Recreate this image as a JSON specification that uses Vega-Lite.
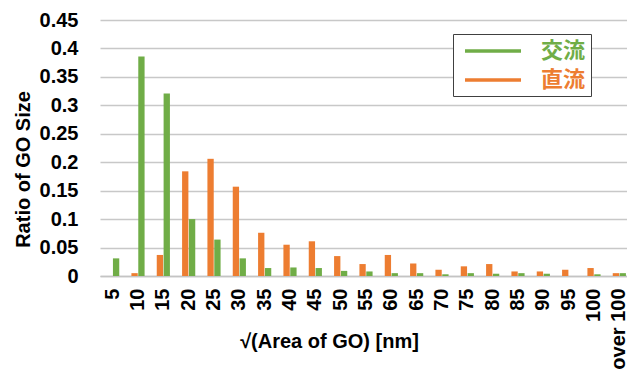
{
  "$schema": "https://vega.github.io/schema/vega-lite/v6.json",
  "autosize": {"type": "none"},
  "width": 529,
  "height": 256,
  "padding": {"left": 98, "top": 20, "right": 0, "bottom": 93},
  "background": "white",
  "config": {
    "view": {"stroke": null},
    "font": "Liberation Sans",
    "axis": {"labelFont": "Liberation Sans", "titleFont": "Liberation Sans"}
  },
  "data": {
    "values": [
      {"size": "5", "series": "直流", "ratio": 0.0},
      {"size": "5", "series": "交流", "ratio": 0.031},
      {"size": "10", "series": "直流", "ratio": 0.005},
      {"size": "10", "series": "交流", "ratio": 0.386},
      {"size": "15", "series": "直流", "ratio": 0.037},
      {"size": "15", "series": "交流", "ratio": 0.321},
      {"size": "20", "series": "直流", "ratio": 0.184},
      {"size": "20", "series": "交流", "ratio": 0.100},
      {"size": "25", "series": "直流", "ratio": 0.206},
      {"size": "25", "series": "交流", "ratio": 0.064},
      {"size": "30", "series": "直流", "ratio": 0.157},
      {"size": "30", "series": "交流", "ratio": 0.031},
      {"size": "35", "series": "直流", "ratio": 0.076},
      {"size": "35", "series": "交流", "ratio": 0.014},
      {"size": "40", "series": "直流", "ratio": 0.055},
      {"size": "40", "series": "交流", "ratio": 0.015},
      {"size": "45", "series": "直流", "ratio": 0.061},
      {"size": "45", "series": "交流", "ratio": 0.014},
      {"size": "50", "series": "直流", "ratio": 0.035},
      {"size": "50", "series": "交流", "ratio": 0.009},
      {"size": "55", "series": "直流", "ratio": 0.021},
      {"size": "55", "series": "交流", "ratio": 0.008},
      {"size": "60", "series": "直流", "ratio": 0.037},
      {"size": "60", "series": "交流", "ratio": 0.005},
      {"size": "65", "series": "直流", "ratio": 0.022},
      {"size": "65", "series": "交流", "ratio": 0.005},
      {"size": "70", "series": "直流", "ratio": 0.011},
      {"size": "70", "series": "交流", "ratio": 0.003},
      {"size": "75", "series": "直流", "ratio": 0.017},
      {"size": "75", "series": "交流", "ratio": 0.005},
      {"size": "80", "series": "直流", "ratio": 0.021},
      {"size": "80", "series": "交流", "ratio": 0.004},
      {"size": "85", "series": "直流", "ratio": 0.008},
      {"size": "85", "series": "交流", "ratio": 0.005},
      {"size": "90", "series": "直流", "ratio": 0.008},
      {"size": "90", "series": "交流", "ratio": 0.004},
      {"size": "95", "series": "直流", "ratio": 0.011},
      {"size": "95", "series": "交流", "ratio": 0.0},
      {"size": "100", "series": "直流", "ratio": 0.014},
      {"size": "100", "series": "交流", "ratio": 0.003},
      {"size": "over 100", "series": "直流", "ratio": 0.005},
      {"size": "over 100", "series": "交流", "ratio": 0.005}
    ]
  },
  "mark": {"type": "bar"},
  "encoding": {
    "x": {
      "field": "size",
      "type": "nominal",
      "sort": null,
      "scale": {"range": [2, 534], "paddingInner": 0.48, "paddingOuter": 0.24},
      "axis": {
        "title": "√(Area of GO) [nm]",
        "titleFontSize": 20,
        "titleFontWeight": "bold",
        "titleColor": "#000000",
        "titleX": 231,
        "titleY": 71,
        "titleAlign": "center",
        "titleBaseline": "alphabetic",
        "labelAngle": -90,
        "labelFontSize": 20,
        "labelFontWeight": "bold",
        "labelColor": "#000000",
        "labelPadding": 12,
        "labelOverlap": false,
        "labelLimit": 0,
        "ticks": false,
        "domainColor": "#c4c4c4",
        "domainWidth": 1.5,
        "grid": false
      }
    },
    "xOffset": {
      "field": "series",
      "type": "nominal",
      "scale": {"domain": ["直流", "交流"], "paddingInner": 0.08}
    },
    "y": {
      "field": "ratio",
      "type": "quantitative",
      "scale": {"domain": [0, 0.45], "nice": false},
      "axis": {
        "title": "Ratio of GO Size",
        "titleFontSize": 20,
        "titleFontWeight": "bold",
        "titleColor": "#000000",
        "titleX": -69,
        "titleY": 149,
        "titleAlign": "center",
        "titleBaseline": "alphabetic",
        "titleAngle": -90,
        "values": [0, 0.05, 0.1, 0.15, 0.2, 0.25, 0.3, 0.35, 0.4, 0.45],
        "labelExpr": "datum.value == 0 ? '0' : replace(format(datum.value, '.2f'), /0$/, '')",
        "labelFontSize": 20,
        "labelFontWeight": "bold",
        "labelColor": "#000000",
        "labelPadding": 20,
        "ticks": false,
        "domain": false,
        "grid": true,
        "gridColor": "#c8c8c8",
        "gridWidth": 1.5
      }
    },
    "color": {
      "field": "series",
      "type": "nominal",
      "scale": {"domain": ["交流", "直流"], "range": ["#70ad47", "#ed7d31"]},
      "legend": {
        "title": null,
        "orient": "none",
        "legendX": 355,
        "legendY": 14,
        "direction": "vertical",
        "padding": 5,
        "strokeColor": "#404040",
        "fillColor": "#ffffff",
        "symbolType": "M-2.8,0H2.8",
        "symbolSize": 400,
        "symbolStrokeWidth": 3.5,
        "symbolOffset": 23,
        "labelOffset": 36,
        "labelFont": "Noto Sans CJK JP",
        "labelFontSize": 22,
        "labelFontWeight": "bold",
        "labelColor": {"expr": "datum.label == '交流' ? '#70ad47' : '#ed7d31'"},
        "rowPadding": 6,
        "encode": {
          "symbols": {"update": {"stroke": {"scale": "color", "field": "value"}}}
        }
      }
    }
  }
}
